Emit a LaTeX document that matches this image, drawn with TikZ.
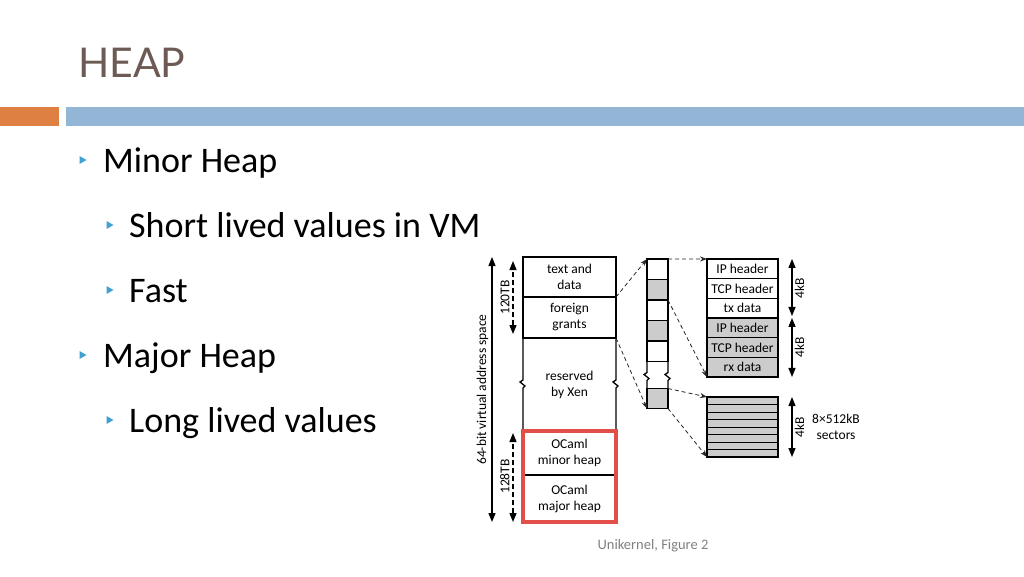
\documentclass[tikz,border=0pt]{standalone}
\usepackage{fontspec}
\setmainfont{Carlito}
\newfontfamily\titlefont{Lato}
\definecolor{titlebrown}{RGB}{110, 90, 84}
\definecolor{barorange}{RGB}{222, 128, 66}
\definecolor{barblue}{RGB}{148, 182, 214}
\definecolor{bulletblue}{RGB}{64, 160, 210}
\definecolor{heapred}{RGB}{226, 78, 72}
\definecolor{cellgray}{RGB}{204, 204, 204}
\definecolor{footgray}{RGB}{128, 128, 128}
\newcommand{\slidefont}{\fontsize{36}{43}\selectfont}
\newcommand{\diagfont}{\fontsize{13.5}{16}\selectfont}
\usetikzlibrary{
    arrows.meta,
    positioning
}

\begin{document}
\begin{tikzpicture}[x=1pt, y=-1pt,
    memcell/.style={draw, line width=1.3pt, outer sep=0pt, inner sep=0pt,
        minimum width=93pt, align=center, font=\diagfont},
    pagecell/.style={draw, line width=1.3pt, outer sep=0pt, inner sep=0pt,
        minimum width=21pt, minimum height=20.5pt},
    pktcell/.style={draw, line width=1.3pt, outer sep=0pt, inner sep=0pt,
        minimum width=71pt, minimum height=19.67pt, font=\diagfont},
    dimarrow/.style={{Triangle[length=9pt,width=7pt]}-{Triangle[length=9pt,width=7pt]},
        line width=1.3pt},
    dimdash/.style={dimarrow, dash pattern=on 5pt off 3pt},
    mapline/.style={-{Stealth[length=7pt,width=5pt]}, line width=0.8pt,
        dash pattern=on 4pt off 3pt, black!85}]
    \useasboundingbox (0,0) rectangle (1024,576);

    % Title
    \node[anchor=base west, inner sep=0, text=titlebrown,
        font=\titlefont\fontsize{41}{48}\selectfont] (title) at (78,77) {HEAP};
    \fill[barorange] (0,107) rectangle (59,126);
    \fill[barblue] (66,107) rectangle (1024,126);

    % Bullets
    \foreach \bx/\by in {83/160, 110/225, 110/290, 83/355, 110/420}
        \fill[bulletblue] (\bx-3.5,\by-4) -- (\bx+3.5,\by) -- (\bx-3.5,\by+4) -- cycle;
    \node[anchor=base west, inner sep=0, font=\slidefont] (minor) at (103,172) {Minor Heap};
    \node[anchor=base west, inner sep=0, font=\slidefont] (short) at (129,237) {Short lived values in VM};
    \node[anchor=base west, inner sep=0, font=\slidefont] (fast) at (129,302) {Fast};
    \node[anchor=base west, inner sep=0, font=\slidefont] (major) at (103,367) {Major Heap};
    \node[anchor=base west, inner sep=0, font=\slidefont] (long) at (129,432) {Long lived values};

    % Address space
    \node[memcell, minimum height=40pt] (textdata) at (569.5,277) {text and\\data};
    \node[memcell, minimum height=41pt, below=0pt of textdata] (grants) {foreign\\grants};
    \node[memcell, draw=none, minimum height=93pt, below=0pt of grants] (reserved) {reserved\\by Xen};
    \node[memcell, minimum height=44pt, below=0pt of reserved] (minorheap) {OCaml\\minor heap};
    \node[memcell, minimum height=47pt, below=0pt of minorheap] (majorheap) {OCaml\\major heap};
    \draw[line width=1.3pt] (reserved.north west) -- ++(0,42) -- ++(-3,2) -- ++(5,4) -- ++(-2,2) -- (reserved.south west);
    \draw[line width=1.3pt] (reserved.north east) -- ++(0,42) -- ++(-3,2) -- ++(5,4) -- ++(-2,2) -- (reserved.south east);
    \draw[heapred, line width=3.5pt] (minorheap.north west) rectangle (majorheap.south east);

    % Sizes
    \draw[dimarrow] ([xshift=-31pt]majorheap.south west) -- ([xshift=-31pt]textdata.north west)
        node[midway, sloped, above, inner sep=3pt, font=\diagfont] (vaspace) {64-bit virtual address space};
    \draw[dimdash, shorten <=4pt, shorten >=4pt] ([xshift=-10pt]grants.south west) -- ([xshift=-10pt]textdata.north west)
        node[midway, sloped, above, inner sep=3pt, font=\diagfont] (tb120) {120TB};
    \draw[dimdash, shorten >=2pt] ([xshift=-10pt]majorheap.south west) -- ([xshift=-10pt]minorheap.north west)
        node[midway, sloped, above, inner sep=3pt, font=\diagfont] (tb128) {128TB};

    % Grant pages
    \node[pagecell] (pg1) at (657.5,269.25) {};
    \node[pagecell, fill=cellgray, below=0pt of pg1] (pg2) {};
    \node[pagecell, below=0pt of pg2] (pg3) {};
    \node[pagecell, fill=cellgray, below=0pt of pg3] (pg4) {};
    \node[pagecell, below=0pt of pg4] (pg5) {};
    \node[pagecell, draw=none, minimum height=27pt, below=0pt of pg5] (pg6) {};
    \node[pagecell, fill=cellgray, minimum height=20pt, below=0pt of pg6] (pg7) {};
    \draw[line width=1.3pt] (pg6.north west) -- ++(0,11) -- ++(-3,2) -- ++(5,4) -- ++(-2,2) -- (pg6.south west);
    \draw[line width=1.3pt] (pg6.north east) -- ++(0,11) -- ++(-3,2) -- ++(5,4) -- ++(-2,2) -- (pg6.south east);

    % Packet buffers
    \node[pktcell] (ipA) at (742.5,268.8) {IP header};
    \node[pktcell, below=0pt of ipA] (tcpA) {TCP header};
    \node[pktcell, below=0pt of tcpA] (txdata) {tx data};
    \node[pktcell, fill=cellgray, below=0pt of txdata] (ipB) {IP header};
    \node[pktcell, fill=cellgray, below=0pt of ipB] (tcpB) {TCP header};
    \node[pktcell, fill=cellgray, below=0pt of tcpB] (rxdata) {rx data};
    \draw[dimarrow, shorten <=2pt] ([xshift=14pt]txdata.south east) -- ([xshift=14pt]ipA.north east)
        node[midway, sloped, below, inner sep=2pt, font=\diagfont] (kbA) {4kB};
    \draw[dimarrow] ([xshift=14pt]rxdata.south east) -- ([xshift=14pt]ipB.north east)
        node[midway, sloped, below, inner sep=2pt, font=\diagfont] (kbB) {4kB};

    % Block sectors
    \node[pktcell, fill=cellgray, minimum height=60pt] (sectors) at (742.5,427) {};
    \foreach \i in {1,...,7}
        \draw[line width=1pt] ([yshift={-7.5*\i}]sectors.north west) -- ([yshift={-7.5*\i}]sectors.north east);
    \draw[dimarrow] ([xshift=14pt]sectors.south east) -- ([xshift=14pt]sectors.north east)
        node[midway, sloped, below, inner sep=2pt, font=\diagfont] (kbC) {4kB};
    \node[font=\diagfont, align=center] (sectorlbl) at (836,427) {8×512kB\\sectors};

    % Mappings
    \draw[mapline] (textdata.south east) -- (pg1.north west);
    \draw[mapline] (grants.south east) -- (pg7.south west);
    \draw[mapline] (pg1.north east) -- (ipA.north west);
    \draw[mapline] (pg3.north east) -- (rxdata.south west);
    \draw[mapline] (pg7.north east) -- (sectors.north west);
    \draw[mapline] (pg7.south east) -- (sectors.south west);

    % Caption
    \node[font=\fontsize{14.5}{17}\selectfont, text=footgray] (caption) at (653,546) {Unikernel, Figure 2};
\end{tikzpicture}
\end{document}
